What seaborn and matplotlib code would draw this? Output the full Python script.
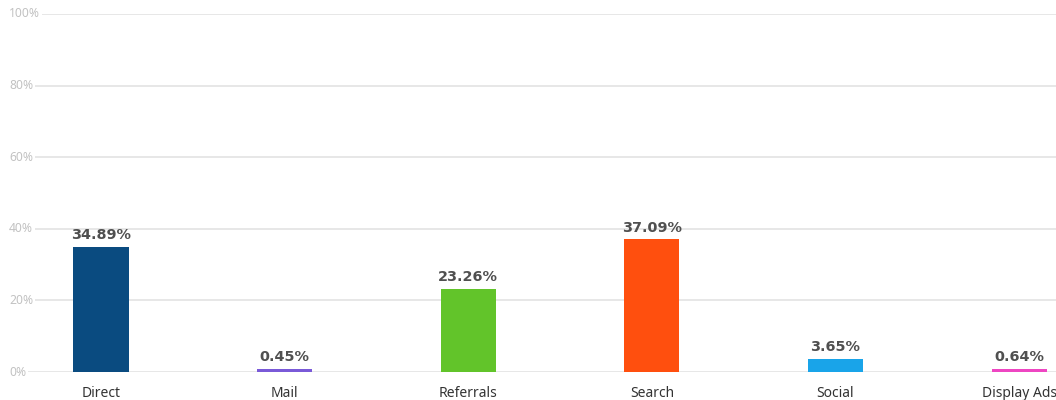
import matplotlib
matplotlib.use("Agg")
import matplotlib.pyplot as plt
import seaborn as sns
import pandas as pd

channels = ["Direct", "Mail", "Referrals", "Search", "Social", "Display Ads"]
shares = [34.89, 0.45, 23.26, 37.09, 3.65, 0.64]
bar_colors = ["#0A4B80", "#7A5AD8", "#62C42A", "#FF4F0E", "#19A4E9", "#EE46C2"]
y_ticks = [0, 20, 40, 60, 80, 100]

sns.set_theme(style="white")
plt.rcParams["font.family"] = ["Noto Sans", "DejaVu Sans"]

df = pd.DataFrame({"channel": channels, "share": shares})

fig = plt.figure(figsize=(10.56, 4.0), dpi=100)
ax = fig.add_axes([0.0085, 0.07, 0.9915, 0.895])

sns.barplot(data=df, x="channel", y="share", hue="channel",
            palette=bar_colors, width=0.3, legend=False, ax=ax,
            saturation=1, zorder=3, linewidth=0)

# keep tiny values visible as a thin strip
min_h = 0.9
for patch, val in zip(ax.patches, shares):
    if val < min_h:
        patch.set_height(min_h)
        patch.set_y(0)

ax.set_ylim(0, 100)
ax.set_xlim(-0.501, 5.201)
ax.set_yticks(y_ticks)
ax.set_yticklabels([])
ax.grid(axis="y", color="#e3e3e3", linewidth=1.2, zorder=0)
ax.set_axisbelow(True)
for s in ax.spines.values():
    s.set_visible(False)

ax.tick_params(axis="y", length=0)
ax.tick_params(axis="x", labelsize=10, labelcolor="#333333", length=0, pad=10)
ax.set_xlabel("")
ax.set_ylabel("")

# y labels sit on the gridlines, masking them with a white box
ytrans = ax.get_yaxis_transform()
for t in y_ticks:
    ax.text(0.0, t, f"{t}%", transform=ytrans, ha="left", va="center",
            fontsize=8.7, color="#c2c2c2", zorder=2,
            bbox=dict(facecolor="white", edgecolor="none", pad=1.2))

for i, val in enumerate(shares):
    top = max(val, min_h)
    ax.text(i, top + 1.3, f"{val:.2f}%", ha="center", va="bottom",
            fontsize=10.4, fontweight="bold", color="#505050",
            family="DejaVu Sans")

fig.savefig("out.png", dpi=100, facecolor="white")
